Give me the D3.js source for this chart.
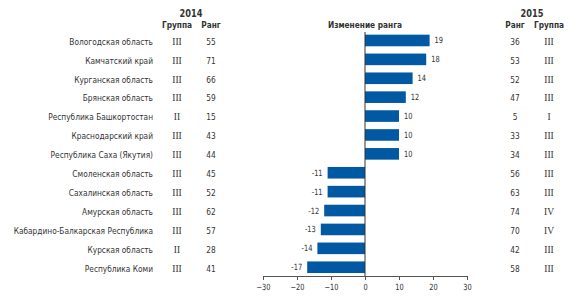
<!DOCTYPE html>
<html>
<head>
<meta charset="utf-8">
<script src="https://cdn.jsdelivr.net/npm/d3@7"></script>
<style>
  body { margin: 0; background: #fff; }
  svg { display: block; }
  text { font-family: "DejaVu Sans Condensed", "Liberation Sans", sans-serif; fill: #333; }
  .roman { font-family: "Liberation Serif", "DejaVu Serif", serif; }
</style>
</head>
<body>
<svg id="chart"></svg>
<script>
// данные
const regions = ["Вологодская область", "Камчатский край", "Курганская область", "Брянская область",
  "Республика Башкортостан", "Краснодарский край", "Республика Саха (Якутия)", "Смоленская область",
  "Сахалинская область", "Амурская область", "Кабардино-Балкарская Республика", "Курская область",
  "Республика Коми"];
const group2014 = ["III", "III", "III", "III", "II", "III", "III", "III", "III", "III", "III", "II", "III"];
const rank2014 = [55, 71, 66, 59, 15, 43, 44, 45, 52, 62, 57, 28, 41];
const rankChange = [19, 18, 14, 12, 10, 10, 10, -11, -11, -12, -13, -14, -17];
const rank2015 = [36, 53, 52, 47, 5, 33, 34, 56, 63, 74, 70, 42, 58];
const group2015 = ["III", "III", "III", "III", "I", "III", "III", "III", "III", "IV", "IV", "III", "III"];
const xTicks = [-30, -20, -10, 0, 10, 20, 30];

const width = 584, height = 301;
const svg = d3.select("#chart").attr("width", width).attr("height", height);

const x = d3.scaleLinear().domain([-30, 30]).range([263, 467]);
const y = d3.scaleBand().domain(d3.range(regions.length)).range([29, 278.7]).paddingInner(0.386).paddingOuter(0.3);
const cy = i => y(i) + y.bandwidth() / 2;

const fs = 9.5;
const sx = 0.87; // сжатие шрифта по горизонтали

// текст с узким начертанием
function label(g, px, py, txt, opts = {}) {
  const t = g.append("text")
    .attr("transform", `translate(${px},${py}) scale(${opts.roman ? 1 : sx},1)`)
    .attr("dy", opts.dy || "0.35em")
    .attr("text-anchor", opts.anchor || "middle")
    .attr("font-size", opts.size || fs)
    .text(txt);
  if (opts.bold) t.attr("font-weight", "bold");
  if (opts.roman) t.attr("class", "roman");
  return t;
}

// заголовки
label(svg, 191, 13, "2014", { bold: true, size: 10.5 });
label(svg, 177, 25, "Группа", { bold: true });
label(svg, 211, 25, "Ранг", { bold: true });
label(svg, 365, 25, "Изменение ранга", { bold: true });
label(svg, 532, 13, "2015", { bold: true, size: 10.5 });
label(svg, 515, 25, "Ранг", { bold: true });
label(svg, 549, 25, "Группа", { bold: true });

const body = svg.append("g");

// столбики
body.selectAll("rect").data(rankChange).join("rect")
  .attr("x", d => x(Math.min(0, d)))
  .attr("y", (d, i) => y(i))
  .attr("width", d => Math.abs(x(d) - x(0)))
  .attr("height", y.bandwidth())
  .attr("fill", "#0059a2");

regions.forEach((r, i) => {
  const ty = cy(i) + 1;
  label(body, 153, ty, r, { anchor: "end" });
  label(body, 177, ty, group2014[i], { roman: true });
  label(body, 211, ty, rank2014[i]);
  label(body, 515, ty, rank2015[i]);
  label(body, 549, ty, group2015[i], { roman: true });
  const v = rankChange[i];
  label(body, v >= 0 ? x(v) + 5 : x(v) - 5, cy(i), v,
    { anchor: v >= 0 ? "start" : "end", size: 8.5 });
});

// ось
const axis = svg.append("g").attr("transform", "translate(0,276)")
  .call(d3.axisBottom(x).tickValues(xTicks).tickSize(4).tickPadding(4).tickSizeOuter(0));
axis.select(".domain").attr("stroke", "#555");
axis.selectAll(".tick line").attr("stroke", "#555");
axis.selectAll(".tick text").attr("font-size", 8.5).attr("fill", "#333")
  .attr("transform", `scale(${sx},1)`)
  .attr("x", 0)
  .style("font-family", "'DejaVu Sans Condensed', sans-serif");

svg.append("line").attr("x1", x(0)).attr("x2", x(0)).attr("y1", 32).attr("y2", 276)
  .attr("stroke", "#333").attr("stroke-width", 1);
</script>
</body>
</html>
